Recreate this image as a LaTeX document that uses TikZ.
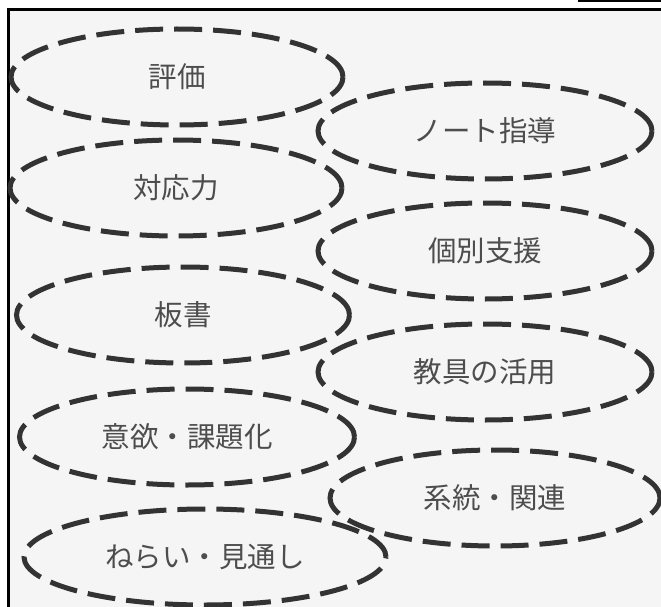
\documentclass[tikz,border=0pt]{standalone}
\usepackage{fontspec}
\newfontfamily\cjk{Noto Sans CJK JP}
\usetikzlibrary{shapes.geometric}
\definecolor{bgfill}{HTML}{F5F5F5}
\definecolor{dashcol}{HTML}{333333}
\definecolor{txtcol}{HTML}{4D4D4D}
\tikzset{
  oval/.style={ellipse, draw=dashcol, line width=5pt, dash pattern=on 28pt off 11pt,
    minimum height=96pt, inner sep=0pt, font=\cjk\fontsize{28.5}{30}\selectfont, text=txtcol},
}
\begin{document}
\begin{tikzpicture}[x=1pt,y=-1pt]
\useasboundingbox (0,0) rectangle (661,607);
\fill[white] (0,0) rectangle (661,607);
% main frame (clipped right and bottom)
\fill[bgfill] (8.5,9.5) rectangle (661,607);
\draw[black, line width=3pt] (8.5,607) -- (8.5,9.5) -- (661,9.5);
% cut-off box at top right
\draw[black, line width=2pt] (579,-5) -- (579,1) -- (665,1);
\fill[dashcol] (617,-2) rectangle (630,0.5);
% ovals
\node[oval, minimum width=332pt] (hyouka) at (177,77) {評価};
\node[oval, minimum width=334pt] (note) at (485,131) {ノート指導};
\node[oval, minimum width=332pt] (taiou) at (176,188) {対応力};
\node[oval, minimum width=334pt] (kobetsu) at (485,251) {個別支援};
\node[oval, minimum width=333pt] (bansho) at (183,315) {板書};
\node[oval, minimum width=334pt] (kyougu) at (485,372) {教具の活用};
\node[oval, minimum width=335pt] (iyoku) at (187,437) {意欲・課題化};
\node[oval, minimum width=330pt] (keitou) at (495,498) {系統・関連};
\node[oval, minimum width=362pt] (nerai) at (205,557) {ねらい・見通し};
\end{tikzpicture}
\end{document}
